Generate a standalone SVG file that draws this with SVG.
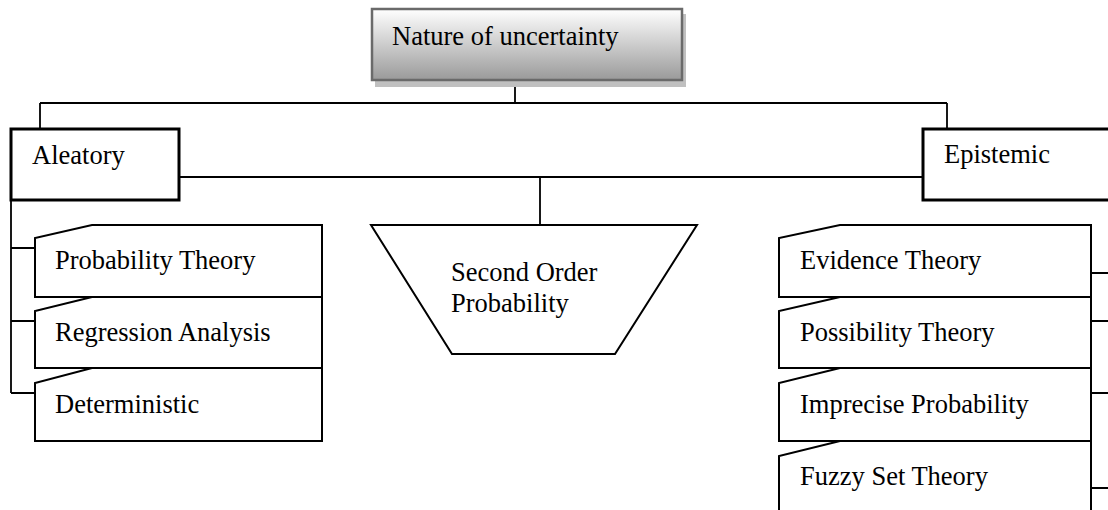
<svg xmlns="http://www.w3.org/2000/svg" width="1108" height="510" viewBox="0 0 1108 510">
<defs>
<linearGradient id="g" x1="0" y1="0" x2="0" y2="1">
<stop offset="0" stop-color="#ffffff"/>
<stop offset="1" stop-color="#9a9a9a"/>
</linearGradient>
</defs>
<style>
text{font-family:"Liberation Serif","Times New Roman",serif;font-size:26.5px;fill:#000}
.c{fill:none;stroke:#000;stroke-width:1.8}
.b{fill:#fff;stroke:#000;stroke-width:2}
.k{fill:#fff;stroke:#000;stroke-width:3}
</style>
<rect x="0" y="0" width="1108" height="510" fill="#fff"/>
<g id="connectors">
<path class="c" d="M515,80 V103 M40,103 H947 M40,103 V129 M947,103 V129"/>
<path class="c" d="M179,177 H923 M540,177 V225"/>
<path class="c" d="M11,200 V393 M11,248 H35 M11,321 H35 M11,393 H35"/>
<path class="c" d="M1091,273 H1108 M1091,321 H1108 M1091,393 H1108 M1091,488 H1108"/>
</g>
<g id="nature">
<rect x="375" y="14" width="311" height="73" fill="#c0c0c0"/>
<rect x="372" y="9" width="310" height="71" fill="url(#g)" stroke="#6a6a6a" stroke-width="2.5"/>
<text x="392" y="45">Nature of uncertainty</text>
</g>
<g id="aleatory">
<rect class="k" x="11" y="129" width="168" height="71"/>
<text x="32" y="164">Aleatory</text>
</g>
<g id="epistemic">
<rect class="k" x="923" y="129" width="200" height="71"/>
<text x="944" y="163">Epistemic</text>
</g>
<g id="second-order">
<path class="b" d="M371,225 H697 L615,354 H452 Z"/>
<text x="451" y="281">Second Order</text>
<text x="451" y="312">Probability</text>
</g>
<g id="probability-theory">
<path class="b" d="M92,225 H322 V297 H35 V238 Z"/>
<text x="55" y="269">Probability Theory</text>
</g>
<g id="regression-analysis">
<path class="b" d="M92,297 H322 V368 H35 V311 Z"/>
<text x="55" y="341">Regression Analysis</text>
</g>
<g id="deterministic">
<path class="b" d="M92,368 H322 V441 H35 V383 Z"/>
<text x="55" y="413">Deterministic</text>
</g>
<g id="evidence-theory">
<path class="b" d="M840,225 H1091 V297 H779 V238 Z"/>
<text x="800" y="269">Evidence Theory</text>
</g>
<g id="possibility-theory">
<path class="b" d="M840,297 H1091 V368 H779 V311 Z"/>
<text x="800" y="341">Possibility Theory</text>
</g>
<g id="imprecise-probability">
<path class="b" d="M840,368 H1091 V441 H779 V383 Z"/>
<text x="800" y="413">Imprecise Probability</text>
</g>
<g id="fuzzy-set-theory">
<path class="b" d="M840,441 H1091 V520 H779 V456 Z"/>
<text x="800" y="485">Fuzzy Set Theory</text>
</g>
</svg>
